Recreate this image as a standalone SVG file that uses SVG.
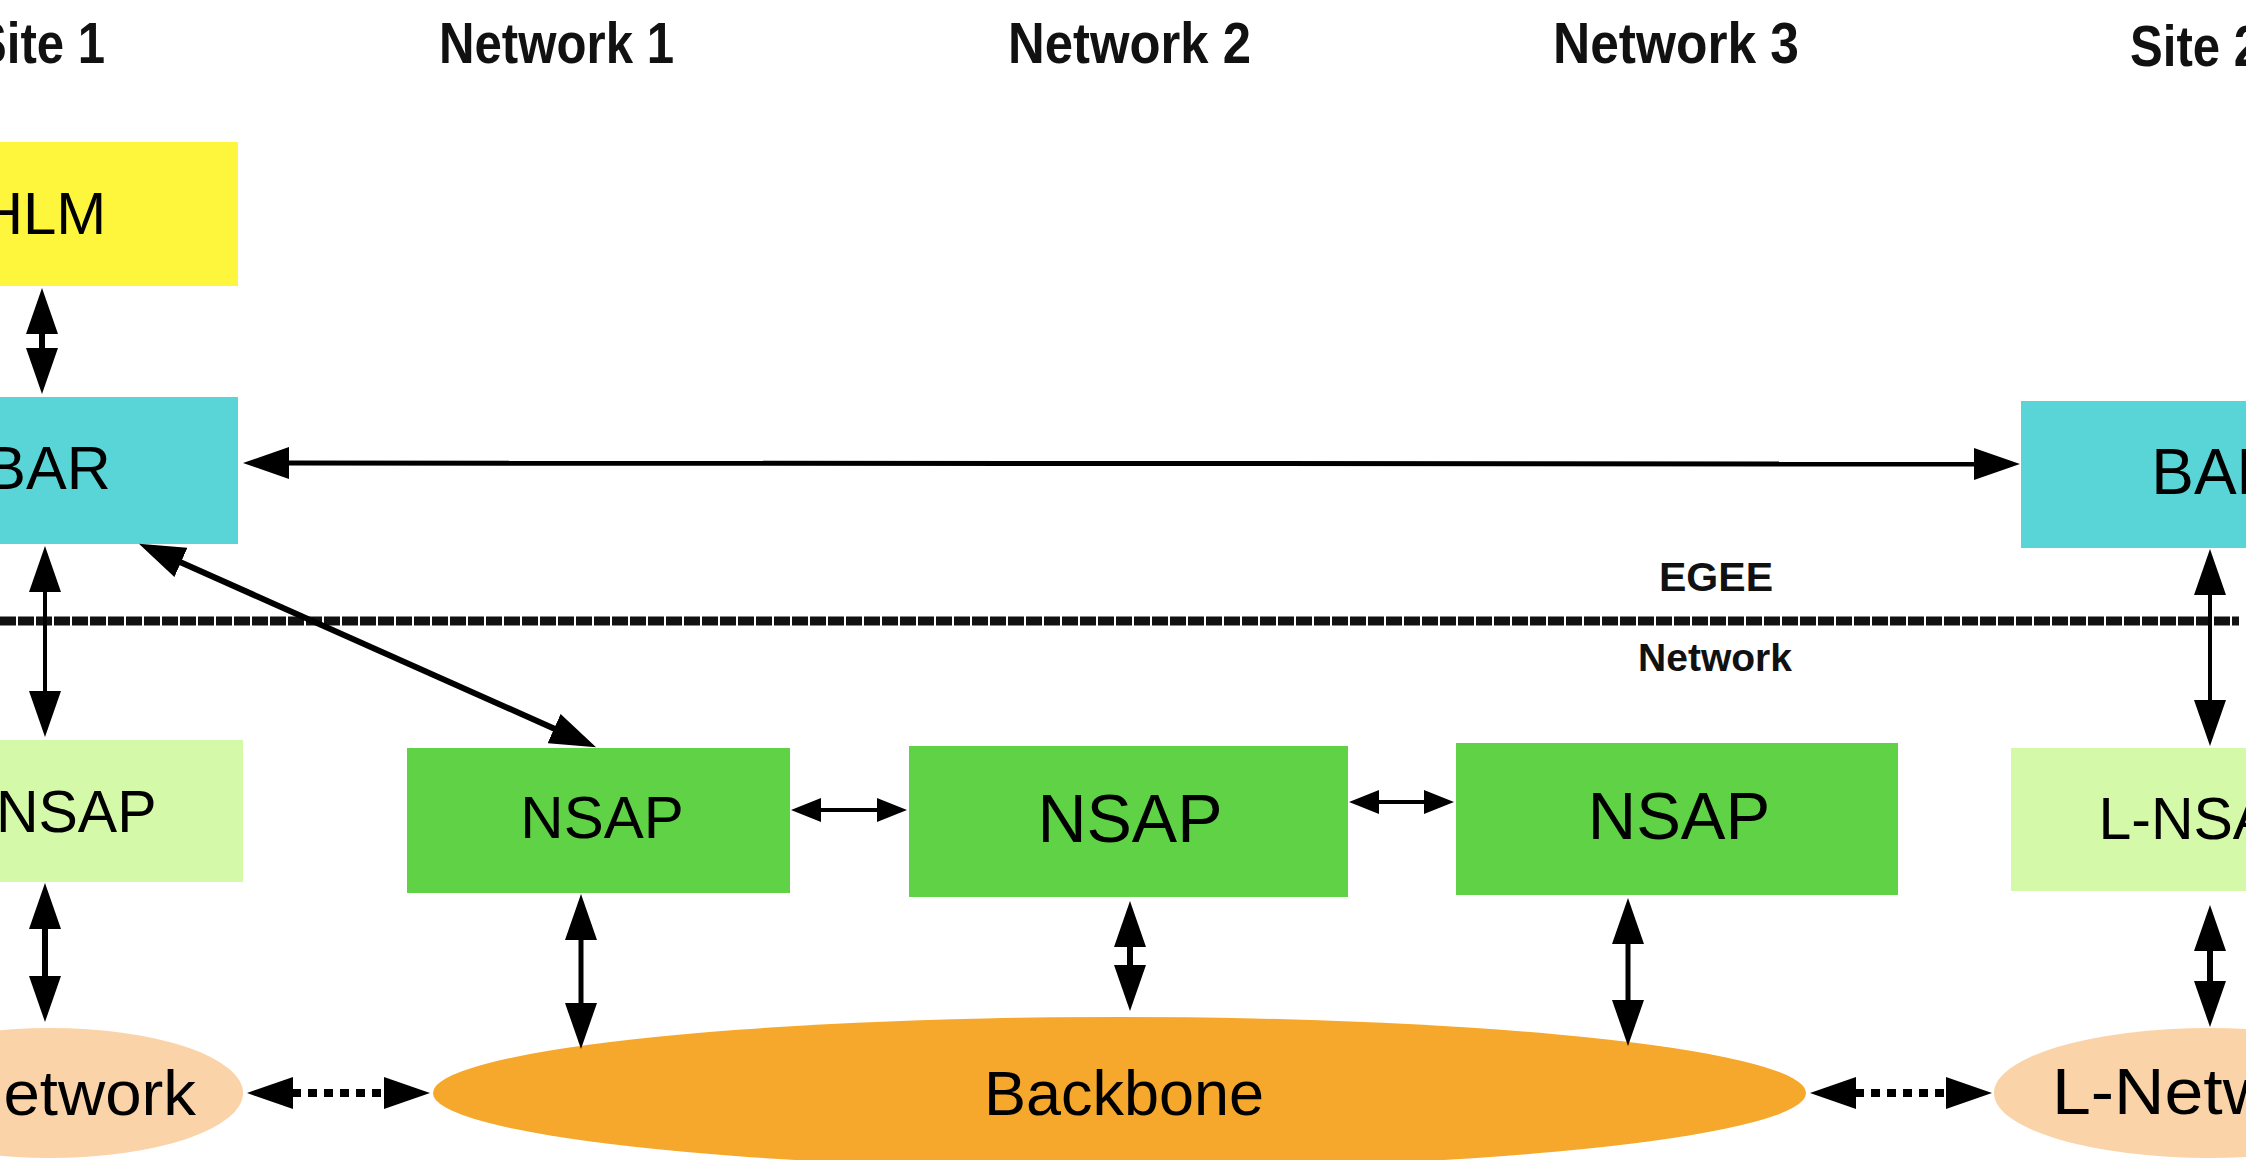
<svg xmlns="http://www.w3.org/2000/svg" width="2246" height="1160" viewBox="0 0 2246 1160">
<style>
  .hdr { font-family: "Liberation Sans", Arial, sans-serif; font-weight: bold; font-size: 57px; fill: #111; }
  .lbl { font-family: "Liberation Sans", Arial, sans-serif; fill: #000; text-anchor: middle; }
  .sep { font-family: "Liberation Sans", Arial, sans-serif; font-weight: bold; fill: #111; }
  .c { stroke: #000; fill: none; }
  .big { marker-start: url(#ah); marker-end: url(#ah); }
  .small { marker-start: url(#as); marker-end: url(#as); }
  .dot { stroke-dasharray: 9 7; }
</style>
<defs>
  <marker id="ah" viewBox="0 -16 46 32" refX="1" refY="0" markerWidth="46" markerHeight="32" markerUnits="userSpaceOnUse" orient="auto-start-reverse">
    <path d="M0,-16 L46,0 L0,16 Z" fill="#000"/>
  </marker>
  <marker id="as" viewBox="0 -12 30 24" refX="1" refY="0" markerWidth="30" markerHeight="24" markerUnits="userSpaceOnUse" orient="auto-start-reverse">
    <path d="M0,-12 L30,0 L0,12 Z" fill="#000"/>
  </marker>
</defs>
<rect width="2246" height="1160" fill="#fff"/>

<g id="headers">
  <text class="hdr" x="-26" y="63" textLength="131" lengthAdjust="spacingAndGlyphs">Site 1</text>
  <text class="hdr" x="439" y="63" textLength="235" lengthAdjust="spacingAndGlyphs">Network 1</text>
  <text class="hdr" x="1008" y="63" textLength="243" lengthAdjust="spacingAndGlyphs">Network 2</text>
  <text class="hdr" x="1553" y="63" textLength="246" lengthAdjust="spacingAndGlyphs">Network 3</text>
  <text class="hdr" x="2130" y="66" textLength="131" lengthAdjust="spacingAndGlyphs">Site 2</text>
</g>

<g id="separator">
  <line x1="0" y1="621" x2="2239" y2="621" stroke="#111" stroke-width="9" stroke-dasharray="16 2"/>
  <text class="sep" x="1659" y="591" font-size="41" textLength="114" lengthAdjust="spacingAndGlyphs">EGEE</text>
  <text class="sep" x="1638" y="671" font-size="39" textLength="154" lengthAdjust="spacingAndGlyphs">Network</text>
</g>

<g id="node-hlm">
  <rect x="-154" y="142" width="392" height="144" fill="#FEF63C"/>
  <text class="lbl" x="43" y="234" font-size="60">HLM</text>
</g>
<g id="node-bar1">
  <rect x="-142" y="397" width="380" height="147" fill="#5AD5D7"/>
  <text class="lbl" x="48" y="489" font-size="61">BAR</text>
</g>
<g id="node-lnsap1">
  <rect x="-137" y="740" width="380" height="142" fill="#D4F9A8"/>
  <text class="lbl" x="50" y="832" font-size="59">L-NSAP</text>
</g>
<g id="node-lnet1">
  <ellipse cx="50" cy="1093" rx="193" ry="65" fill="#FAD4A8"/>
  <text class="lbl" x="-102" y="1115" font-size="63" style="text-anchor:start" textLength="298" lengthAdjust="spacingAndGlyphs">L-Network</text>
</g>
<g id="node-nsap1">
  <rect x="407" y="748" width="383" height="145" fill="#5FD246"/>
  <text class="lbl" x="602" y="838" font-size="60">NSAP</text>
</g>
<g id="node-nsap2">
  <rect x="909" y="746" width="439" height="151" fill="#5FD246"/>
  <text class="lbl" x="1130" y="842" font-size="68">NSAP</text>
</g>
<g id="node-nsap3">
  <rect x="1456" y="743" width="442" height="152" fill="#5FD246"/>
  <text class="lbl" x="1679" y="839" font-size="67">NSAP</text>
</g>
<g id="node-backbone">
  <ellipse cx="1119.5" cy="1093" rx="686.5" ry="76" fill="#F5A82B"/>
  <text class="lbl" x="1124" y="1115" font-size="63">Backbone</text>
</g>
<g id="node-bar2">
  <rect x="2021" y="401" width="400" height="147" fill="#5AD5D7"/>
  <text class="lbl" x="2217" y="494" font-size="64">BAR</text>
</g>
<g id="node-lnsap2">
  <rect x="2011" y="748" width="400" height="143" fill="#D4F9A8"/>
  <text class="lbl" x="2205" y="839" font-size="59">L-NSAP</text>
</g>
<g id="node-lnet2">
  <ellipse cx="2210" cy="1093" rx="216" ry="65" fill="#FAD4A8"/>
  <text class="lbl" x="2052" y="1114" font-size="64" style="text-anchor:start" textLength="318" lengthAdjust="spacingAndGlyphs">L-Network</text>
</g>

<g id="connectors">
  <line class="c big" x1="42" y1="333" x2="42" y2="349" stroke-width="6"/>
  <line class="c big" x1="288" y1="463" x2="1975" y2="464" stroke-width="5"/>
  <line class="c big" x1="45" y1="591" x2="45" y2="692" stroke-width="4"/>
  <line class="c big" x1="180" y1="562" x2="555" y2="729" stroke-width="6"/>
  <line class="c big" x1="45" y1="928" x2="45" y2="977" stroke-width="6"/>
  <line class="c big" x1="581" y1="939" x2="581" y2="1004" stroke-width="5"/>
  <line class="c big" x1="1130" y1="946" x2="1130" y2="966" stroke-width="6"/>
  <line class="c big" x1="1628" y1="943" x2="1628" y2="1001" stroke-width="5"/>
  <line class="c big" x1="2210" y1="950" x2="2210" y2="982" stroke-width="6"/>
  <line class="c big" x1="2210" y1="594" x2="2210" y2="701" stroke-width="4"/>
  <line class="c small" x1="820" y1="810" x2="878" y2="810" stroke-width="4"/>
  <line class="c small" x1="1378" y1="802" x2="1425" y2="802" stroke-width="4"/>
  <line class="c big dot" x1="292" y1="1093" x2="385" y2="1093" stroke-width="8"/>
  <line class="c big dot" x1="1855" y1="1093" x2="1947" y2="1093" stroke-width="8"/>
</g>
</svg>
